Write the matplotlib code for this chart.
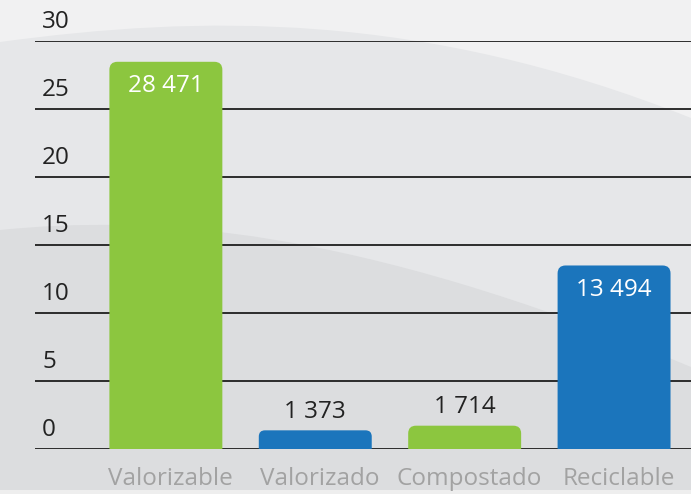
import numpy as np
import matplotlib.pyplot as plt
from matplotlib.patches import Rectangle, PathPatch
from matplotlib.path import Path
import matplotlib.transforms as mtransforms

plt.rcParams['font.family'] = ['Open Sans', 'DejaVu Sans']

categories = ['Valorizable', 'Valorizado', 'Compostado', 'Reciclable']
values = [28471, 1373, 1714, 13494]
colors = ['#8cc63f', '#1b75bc', '#8cc63f', '#1b75bc']
yticks = [0, 5, 10, 15, 20, 25, 30]

W, H = 691, 494
fig = plt.figure(figsize=(W / 100, H / 100), dpi=100)

# decorative background waves (pixel coordinates)
bg = fig.add_axes([0, 0, 1, 1], zorder=0)
bg.set_xlim(0, W)
bg.set_ylim(H, 0)
bg.axis('off')
bg.add_patch(Rectangle((0, 0), W, H, color='#f1f1f2', lw=0))


def wave(p0, p1, p2, p3, color):
    verts = [p0, p1, p2, p3, (W, H), (0, H), p0]
    codes = [Path.MOVETO, Path.CURVE4, Path.CURVE4, Path.CURVE4,
             Path.LINETO, Path.LINETO, Path.CLOSEPOLY]
    bg.add_patch(PathPatch(Path(verts, codes), facecolor=color, lw=0))


wave((0, 42), (200, 15), (420, 10), (W, 118), '#e6e7e9')
wave((0, 230), (150, 215), (350, 225), (W, 367), '#dcdddf')
bg.add_patch(Rectangle((0, 490), W, 4, color='#eeeeee', lw=0))

# main chart
ax = fig.add_axes([35 / W, 45 / H, 1 - 35 / W, 408 / H], zorder=1)
ax.patch.set_alpha(0)
x = np.arange(len(categories))
v = np.array(values) / 1000
ax.set_xlim(-0.876, 3.515)
ax.set_ylim(0, 30)
for s in ax.spines.values():
    s.set_visible(False)
ax.set_yticks(yticks)
ax.set_xticks([])
ax.tick_params(left=False, labelleft=False)
ax.yaxis.grid(True, color='#1e1e1e', lw=1.3)
ax.set_axisbelow(True)


def top_rounded(x0, x1, y0, y1, rx, ry):
    verts = [(x0, y0), (x0, y1 - ry), (x0, y1), (x0 + rx, y1),
             (x1 - rx, y1), (x1, y1), (x1, y1 - ry), (x1, y0), (x0, y0)]
    codes = [Path.MOVETO, Path.LINETO, Path.CURVE3, Path.CURVE3,
             Path.LINETO, Path.CURVE3, Path.CURVE3, Path.LINETO,
             Path.CLOSEPOLY]
    return Path(verts, codes)


bw = 0.756
px_x = 149.5
px_y = 13.6
for xi, vi, c in zip(x, v, colors):
    rpx = min(8, vi * px_y / 3)
    p = top_rounded(xi - bw / 2, xi + bw / 2, -0.1, vi,
                    rpx / px_x, rpx / px_y)
    ax.add_patch(PathPatch(p, facecolor=c, edgecolor='none', zorder=3))

fs = 17.5
for xi, vi, val in zip(x, v, values):
    lab = f'{val:,}'.replace(',', ' ')
    if vi > 5:
        ax.text(xi, vi - 1.8, lab, ha='center', va='center', color='white',
                fontsize=fs, zorder=4)
    else:
        ax.text(xi, vi + 0.5, lab, ha='center', va='bottom', color='#222222',
                fontsize=fs, zorder=4)

trans = mtransforms.blended_transform_factory(ax.transAxes, ax.transData)
for t in yticks:
    ax.text(7 / 656, t + 0.5, str(t), transform=trans, ha='left',
            va='bottom', fontsize=fs, color='#222222')

for xi, c in zip(x, categories):
    ax.text(xi + 0.03, -2.2, c, ha='center', va='center', fontsize=fs,
            color='#a2a2a2')

fig.savefig('out.png', dpi=100)
